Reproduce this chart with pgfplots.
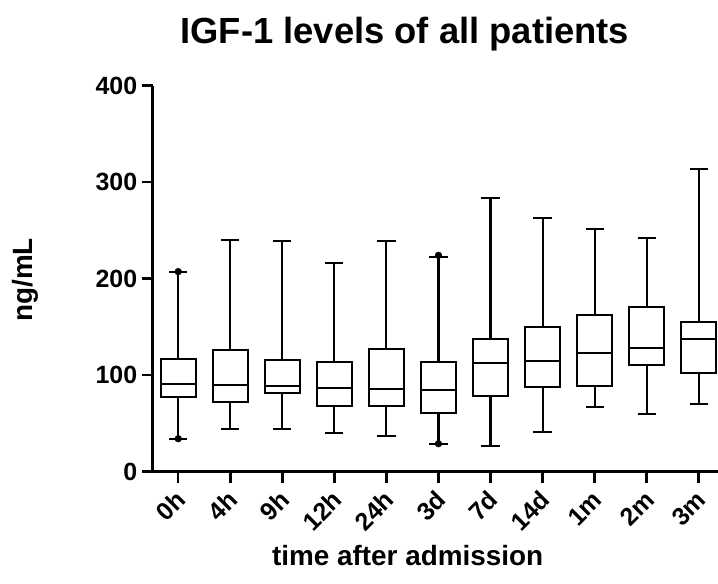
\documentclass[border=0pt]{standalone}
\usepackage{fontspec}
\setmainfont{Liberation Sans}
\usepackage{pgfplots}
\pgfplotsset{compat=1.18}
\usepgfplotslibrary{statistics}

% median, quartiles and whisker ends for each time point
\newcommand{\igfbox}[6]{%
  \addplot[black, solid, line width=2.1bp, mark=none,
    boxplot prepared={draw position=#1,
      lower whisker=#2, lower quartile=#3, median=#4,
      upper quartile=#5, upper whisker=#6}] coordinates {};}

\begin{document}
\begin{tikzpicture}
\useasboundingbox (-152.7bp,-112.3bp) rectangle (565.3bp,471.7bp);
\begin{axis}[
  at={(0,0)}, anchor=south west,
  scale only axis,
  width=565.3bp, height=386bp,
  xmin=-0.49, xmax=10.37,
  ymin=0, ymax=400,
  axis x line=bottom, axis y line=left,
  axis line style={-, line width=2.8bp},
  xtick={0,...,10},
  xticklabels={0h,4h,9h,12h,24h,3d,7d,14d,1m,2m,3m},
  ytick={0,100,200,300,400},
  tick align=outside,
  major tick length=11bp,
  tick style={line width=2.5bp, black},
  /pgf/number format/assume math mode=true,
  yticklabel style={font=\fontsize{25}{27}\selectfont\bfseries, xshift=-1bp},
  xticklabel style={font=\fontsize{25}{27}\selectfont\bfseries,
    xshift=3bp, yshift=-13bp, rotate=45, anchor=east, inner sep=0bp},
  title={IGF-1 levels of all patients},
  title style={font=\fontsize{36.5}{40}\selectfont\bfseries,
    at={(axis description cs:0.446,1.118)}, anchor=center},
  xlabel={time after admission},
  xlabel style={font=\fontsize{28}{30}\selectfont\bfseries,
    at={(axis description cs:0.451,-0.218)}, anchor=center},
  ylabel={ng/mL},
  ylabel style={font=\fontsize{28}{30}\selectfont\bfseries,
    at={(axis description cs:-0.225,0.497)}, anchor=center, rotate=0},
  boxplot/draw direction=y,
  boxplot/box extend=0.667,
  boxplot/whisker extend=0.35,
  clip=false,
]
\igfbox{0}{34.2}{77.1}{90.9}{116.5}{207.3}
\igfbox{1}{44.2}{72.5}{90.2}{126.1}{240.4}
\igfbox{2}{44.6}{81.6}{89.1}{115.8}{239.4}
\igfbox{3}{40.1}{68.4}{86.4}{113.7}{216.0}
\igfbox{4}{36.7}{68.4}{85.7}{126.8}{239.4}
\igfbox{5}{29.0}{61.1}{84.3}{113.4}{222.2}
\igfbox{6}{26.9}{78.1}{113.0}{137.5}{283.6}
\igfbox{7}{41.1}{87.8}{114.7}{149.9}{263.2}
\igfbox{8}{66.7}{88.5}{123.3}{162.4}{251.5}
\igfbox{9}{59.5}{110.3}{128.2}{171.0}{242.5}
\igfbox{10}{69.8}{102.6}{137.8}{155.4}{314.0}
% extreme values shown as dots
\addplot[only marks, mark=*, mark size=3.4bp, black] coordinates {
  (0,207.3) (0,34.2) (5,224.2) (5,29.0)};
\end{axis}
\end{tikzpicture}
\end{document}
